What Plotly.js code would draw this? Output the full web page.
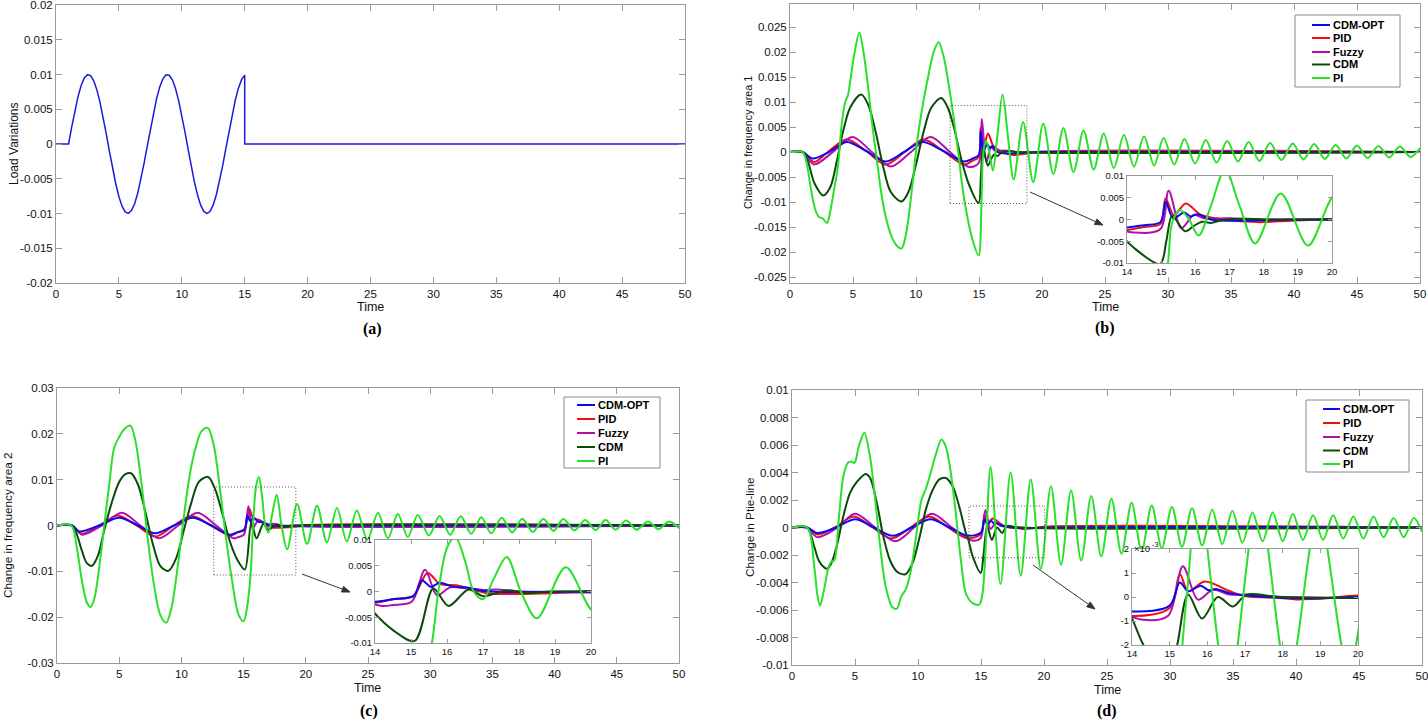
<!DOCTYPE html>
<html>
<head>
<meta charset="utf-8">
<script src="https://cdn.plot.ly/plotly-3.0.1.min.js"></script>
<style>
html,body{margin:0;padding:0;background:#ffffff;}
#chart{width:1428px;height:722px;}
</style>
</head>
<body>
<div id="chart"></div>
<script>
// ---------------- DATA ----------------
const seriesNames = ['CDM-OPT', 'PID', 'Fuzzy', 'CDM', 'PI'];
const seriesColors = ['#0a0af0', '#f01010', '#b010b0', '#0a4a0a', '#2ae02a'];

// (a) load variation
const loadT = [0, 1, 1.25, 1.5, 1.75, 2, 2.25, 2.5, 2.75, 3, 3.25, 3.5, 3.75, 4, 4.25, 4.5, 4.75, 5, 5.25, 5.5, 5.75, 6, 6.25, 6.5, 6.75, 7, 7.25, 7.5, 7.75, 8, 8.25, 8.5, 8.75, 9, 9.25, 9.5, 9.75, 10, 10.25, 10.5, 10.75, 11, 11.25, 11.5, 11.75, 12, 12.25, 12.5, 12.75, 13, 13.25, 13.5, 13.75, 14, 14.25, 14.5, 14.75, 15, 15, 50];
const loadV = [0, 0, .00247, .00479, .00682, .00841, .00949, .00997, .00984, .00909, .00778,
  .00599, .00382, .00141, -.00108, -.00351, -.00572, -.00757, -.00895, -.00978, -.00999,
  -.00959, -.00859, -.00706, -.00508, -.00279, -.00033, .00215, .0045, .00657, .00823,
  .00938, .00995, .00989, .00923, .00799, .00624, .00412, .00174, -.00075, -.0032,
  -.00544, -.00735, -.0088, -.0097, -.01, -.00968, -.00876, -.00727, -.00537, -.00312,
  -.00066, .00182, .0042, .00631, .00804, .00926, .00991, 0, 0];

// (b) change in frequency area 1
const bOptT = [0, 1.0, 1.8, 3.1, 4.5, 6.05, 7.6, 9.05, 10.5, 12.1, 13.8, 14.5, 14.98, 15.13, 15.35, 15.67, 15.86, 16.06, 16.45, 17.3, 18.5, 20, 50];
const bOptV = [0, 0, -0.0013, 0, 0.002, 0.0002, -0.0019, 0, 0.002, 0.0003, -0.0019, -0.0013, -0.0006, 0.0041, 0.0003, 0.0016, 0.0007, 0.0012, 0, -0.0003, -0.0001, 0, 0];
const bPidT = [0, 1.0, 1.9, 3.0, 4.5, 6.0, 7.6, 9.1, 10.6, 12.1, 13.8, 14.5, 14.98, 15.13, 15.37, 15.72, 16.16, 16.84, 17.8, 18.8, 20, 50];
const bPidV = [0, 0, -0.002, 0, 0.0025, 0.0003, -0.0025, 0, 0.0025, 0.0003, -0.0025, -0.0017, -0.001, 0.0049, 0.001, 0.0037, 0.0011, 0, -0.0006, -0.0003, 0.0001, 0];
const bFuzT = [0, 1.0, 1.9, 3.4, 4.95, 6.5, 8.0, 9.6, 11.15, 12.7, 14.2, 14.98, 15.22, 15.59, 15.96, 16.25, 17.0, 18.0, 50];
const bFuzV = [0, 0, -0.0025, 0, 0.003, 0, -0.0029, 0, 0.003, 0, -0.003, -0.0022, 0.0066, -0.002, 0.0011, 0.0003, 0.0003, 0, 0];
const bCdmT = [0, 1.0, 1.4, 1.95, 2.65, 3.2, 3.7, 4.2, 4.8, 5.65, 6.2, 6.8, 7.4, 8.0, 8.85, 9.4, 10.0, 10.6, 11.2, 12.0, 12.5, 13.0, 13.6, 14.2, 14.97, 15.15, 15.32, 15.7, 15.95, 16.2, 16.45, 16.8, 17.5, 18.0, 50];
const bCdmV = [0, 0, -0.0017, -0.0063, -0.0087, -0.007, -0.002, 0.004, 0.009, 0.0115, 0.0095, 0.004, -0.003, -0.008, -0.0099, -0.008, -0.0025, 0.004, 0.0088, 0.0108, 0.009, 0.005, -0.0015, -0.0065, -0.0102, -0.005, 0.0008, -0.0027, -0.0015, -0.0005, -0.0008, -0.0001, 0.0002, 0, 0];
const bPiT = [0, 1.0, 1.3, 1.7, 2.0, 2.3, 2.6, 2.94, 3.2, 3.5, 3.8, 4.1, 4.4, 4.6, 4.8, 5.1, 5.5, 5.8, 6.2, 6.55, 6.9, 7.25, 7.6, 8.0, 8.4, 8.85, 9.2, 9.7, 10.1, 10.6, 11.0, 11.4, 11.8, 12.2, 12.75, 13.3, 13.8, 14.5, 14.97, 15.2, 15.32, 15.55, 15.8, 16.1, 16.45, 16.87, 17.3, 17.75, 18.5, 19.3, 20.1, 20.9, 21.7, 22.5, 23.3, 24.1, 24.9, 25.7, 26.5, 27.3, 28.1, 28.9, 29.65, 30.5, 31.3, 32.15, 33.0, 33.85, 34.7, 35.55, 36.4, 37.25, 38.1, 39.0, 39.9, 40.75, 41.6, 42.45, 43.3, 44.15, 45.0, 45.85, 46.7, 47.55, 48.4, 49.25, 50];
const bPiV = [0, 0, -0.002, -0.008, -0.0115, -0.013, -0.0133, -0.0142, -0.0118, -0.0075, -0.003, 0.0055, 0.0102, 0.0113, 0.0145, 0.0195, 0.0239, 0.0205, 0.013, 0.005, -0.0017, -0.0083, -0.013, -0.0165, -0.0185, -0.0193, -0.0165, -0.007, 0.0023, 0.0103, 0.0155, 0.02, 0.022, 0.019, 0.011, 0.001, -0.009, -0.0177, -0.0207, -0.01, -0.0008, 0.0022, 0.0002, -0.0037, 0.003, 0.0115, 0.003, -0.0055, 0.006, -0.006, 0.0057, -0.0044, 0.0048, -0.004, 0.0043, -0.0035, 0.0037, -0.0032, 0.0034, -0.0029, 0.0031, -0.0027, 0.0028, -0.0025, 0.0026, -0.0023, 0.0024, -0.0021, 0.0022, -0.0019, 0.002, -0.0018, 0.0018, -0.0016, 0.0017, -0.0015, 0.0016, -0.0014, 0.0014, -0.0013, 0.0013, -0.0012, 0.0012, -0.0011, 0.0011, -0.001, 0.0008];

// (c) change in frequency area 2
const cOptT = [0, 1.2, 1.8, 3.4, 5.0, 6.5, 7.9, 9.4, 10.9, 12.4, 13.9, 14.5, 15.07, 15.3, 15.55, 15.8, 16.18, 16.55, 17.0, 17.66, 20, 50];
const cOptV = [0, 0, -0.0013, 0, 0.0017, 0, -0.0017, 0, 0.0017, 0, -0.002, -0.0015, -0.0009, 0.0022, 0.0009, 0.0017, 0.0009, 0.0008, 0.0001, -0.0001, 0, 0];
const cPidT = [0, 1.2, 2.0, 3.4, 4.9, 6.4, 7.9, 9.4, 10.8, 12.4, 13.9, 14.5, 15.07, 15.46, 15.8, 16.27, 16.74, 17.2, 17.85, 18.6, 19.5, 20, 50];
const cPidV = [0, 0, -0.0018, 0, 0.0022, 0, -0.0024, 0, 0.0021, 0, -0.0022, -0.0015, -0.0008, 0.0036, 0.0015, 0.0012, 0.0003, -0.0004, -0.0005, -0.0004, -0.0001, 0.0001, 0];
const cFuzT = [0, 1.2, 2.0, 3.6, 5.2, 6.7, 8.2, 9.75, 11.3, 12.8, 14.2, 14.5, 15.02, 15.39, 15.72, 16.09, 16.55, 17.0, 17.4, 18.1, 50];
const cFuzV = [0, 0, -0.002, 0, 0.0028, 0, -0.0028, 0, 0.0028, 0, -0.0028, -0.0026, -0.002, 0.0042, -0.0007, 0.0008, 0.0006, 0.0003, 0.0004, 0, 0];
const cCdmT = [0, 1.2, 1.6, 2.0, 2.4, 2.8, 3.3, 3.8, 4.4, 5.0, 5.5, 5.95, 6.5, 7.1, 7.7, 8.3, 8.95, 9.6, 10.2, 10.8, 11.4, 12.15, 12.7, 13.3, 13.9, 14.5, 15.1, 15.62, 16.04, 16.6, 17.0, 17.66, 18.2, 19.0, 50];
const cCdmV = [0, 0, -0.002, -0.0055, -0.0082, -0.0088, -0.0065, -0.001, 0.005, 0.0095, 0.0112, 0.0114, 0.009, 0.003, -0.004, -0.0088, -0.0099, -0.007, -0.001, 0.005, 0.0095, 0.0106, 0.008, 0.0025, -0.0035, -0.0075, -0.0096, 0.0006, -0.0028, 0.0004, -0.0009, 0.0002, -0.0003, 0, 0];
const cPiT = [0, 1.15, 1.6, 2.0, 2.4, 2.7, 3.0, 3.4, 3.8, 4.2, 4.6, 5.0, 5.4, 5.9, 6.3, 6.8, 7.3, 7.8, 8.3, 8.78, 9.2, 9.7, 10.2, 10.7, 11.2, 11.6, 12.12, 12.6, 13.1, 13.6, 14.1, 14.6, 15.0, 15.3, 15.58, 15.76, 16.0, 16.23, 16.5, 16.74, 17.0, 17.3, 17.66, 18.05, 18.5, 19.3, 20.1, 20.9, 21.7, 22.5, 23.3, 24.1, 24.95, 25.8, 26.6, 27.4, 28.2, 29.0, 29.9, 30.75, 31.6, 32.45, 33.3, 34.1, 34.9, 35.75, 36.6, 37.4, 38.25, 39.1, 39.9, 40.7, 41.6, 42.45, 43.3, 44.1, 44.9, 45.75, 46.6, 47.5, 48.35, 49.2, 50];
const cPiV = [0, 0, -0.005, -0.012, -0.0168, -0.0178, -0.016, -0.009, 0, 0.009, 0.017, 0.0193, 0.021, 0.0218, 0.0185, 0.009, -0.003, -0.013, -0.0195, -0.0212, -0.018, -0.009, 0.002, 0.0115, 0.0175, 0.0205, 0.0213, 0.0175, 0.008, -0.003, -0.0125, -0.0195, -0.0209, -0.0175, -0.01, 0, 0.0085, 0.0106, 0.006, 0, -0.0015, 0.0025, 0.0067, 0, -0.0052, 0.0047, -0.004, 0.0043, -0.0037, 0.0038, -0.0035, 0.0033, -0.0031, 0.0028, -0.0028, 0.0025, -0.0025, 0.0023, -0.0022, 0.0021, -0.002, 0.002, -0.0018, 0.0018, -0.0017, 0.0017, -0.0015, 0.0015, -0.0014, 0.0015, -0.0012, 0.0014, -0.0011, 0.0012, -0.001, 0.0012, -0.0009, 0.0011, -0.0009, 0.0009, -0.0008, 0.0009, -0.0006];

// (d) change in Ptie-line
const dOptT = [0, 1.2, 2.0, 3.5, 5.0, 6.5, 8.0, 9.5, 11.0, 12.5, 14.0, 15.0, 15.27, 15.49, 15.82, 16.04, 16.22, 16.64, 17.04, 18.8, 20, 50];
const dOptV = [0, 0, -0.0004, 0, 0.0006, 0, -0.0006, 0, 0.0006, 0, -0.0006, -0.00036, 0.0006, 0.00024, 0.00047, 0.00028, 0.00033, 0.00014, 0.00006, -0.00006, 0, 0];
const dPidT = [0, 1.2, 2.0, 3.4, 4.9, 6.4, 7.9, 9.4, 10.9, 12.4, 13.9, 15.0, 15.27, 15.49, 15.93, 16.6, 17.04, 17.92, 18.36, 19.25, 20, 50];
const dPidV = [0, 0, -0.0005, 0, 0.0008, 0, -0.0008, 0, 0.0008, 0, -0.00078, -0.00046, 0.00096, 0.00024, 0.00065, 0.00024, 0.00003, -0.00004, -0.0001, -0.00004, 0.00006, 0];
const dFuzT = [0, 1.2, 2.0, 3.6, 5.0, 6.6, 8.2, 9.7, 11.1, 12.7, 14.3, 14.96, 15.35, 15.75, 16.15, 16.6, 17.04, 18, 50];
const dFuzV = [0, 0, -0.0007, 0, 0.001, 0, -0.001, 0, 0.001, 0, -0.00095, -0.00078, 0.00128, -0.00011, 0.0003, 0.0001, 0.0001, 0, 0];
const dCdmT = [0, 1.2, 1.77, 2.12, 2.55, 2.8, 3.12, 3.54, 4.07, 4.6, 5.13, 5.85, 6.2, 6.73, 7.26, 7.79, 8.32, 9.0, 9.56, 10.1, 10.62, 11.15, 11.69, 12.2, 12.75, 13.28, 13.8, 14.0, 14.34, 14.98, 15.2, 15.49, 15.86, 16.28, 16.68, 17.04, 18, 50];
const dCdmV = [0, 0, -0.0014, -0.0024, -0.0029, -0.003, -0.0026, -0.0014, 0.0008, 0.0025, 0.0033, 0.0039, 0.0036, 0.0018, -0.0007, -0.0024, -0.0032, -0.0034, -0.0026, -0.0008, 0.0013, 0.0027, 0.0035, 0.0036, 0.003, 0.0015, -0.0004, -0.0009, -0.0021, -0.0033, -0.002, 0.0001, -0.0009, 0, -0.0004, 0.0001, 0, 0];
const dPiT = [0, 1.2, 1.77, 2.0, 2.23, 2.55, 2.9, 3.1, 3.35, 3.7, 4.07, 4.43, 4.67, 4.96, 5.3, 5.74, 6.2, 6.55, 7.0, 7.44, 7.97, 8.32, 8.68, 9.03, 9.4, 9.84, 10.27, 10.62, 10.98, 11.44, 11.86, 12.2, 12.57, 13.03, 13.46, 13.8, 14.34, 14.87, 15.12, 15.45, 15.76, 16.55, 17.35, 18.15, 18.95, 19.75, 20.55, 21.35, 22.15, 22.95, 23.75, 24.55, 25.35, 26.15, 26.95, 27.75, 28.55, 29.35, 30.15, 30.95, 31.75, 32.55, 33.35, 34.15, 34.95, 35.75, 36.55, 37.35, 38.15, 38.95, 39.75, 40.55, 41.35, 42.15, 42.95, 43.75, 44.55, 45.35, 46.15, 46.95, 47.75, 48.55, 49.35, 50];
const dPiV = [0, 0, -0.0029, -0.0048, -0.0057, -0.0045, -0.0029, -0.0025, -0.0024, 0.0005, 0.0037, 0.0047, 0.0048, 0.0047, 0.0059, 0.0069, 0.0051, 0.0025, -0.0014, -0.0043, -0.0058, -0.0059, -0.005, -0.0045, -0.0033, -0.0007, 0.002, 0.0028, 0.0039, 0.0054, 0.0064, 0.0059, 0.0042, 0.0008, -0.0028, -0.0048, -0.0055, -0.0056, -0.0048, 0, 0.0044, -0.0041, 0.004, -0.0035, 0.0035, -0.003, 0.003, -0.0027, 0.0027, -0.0024, 0.0023, -0.0021, 0.0021, -0.0019, 0.0018, -0.0017, 0.0016, -0.0015, 0.0015, -0.0014, 0.0014, -0.0013, 0.0013, -0.0012, 0.0012, -0.0011, 0.0011, -0.001, 0.0011, -0.001, 0.001, -0.0009, 0.0009, -0.0009, 0.0009, -0.0008, 0.0008, -0.0008, 0.0008, -0.0007, 0.0007, -0.0007, 0.0007, -0.0003];

// tick values / labels
const timeTicks = [0, 5, 10, 15, 20, 25, 30, 35, 40, 45, 50];
const timeTickText = ['0', '5', '10', '15', '20', '25', '30', '35', '40', '45', '50'];
const aYTicks = [-0.02, -0.015, -0.01, -0.005, 0, 0.005, 0.01, 0.015, 0.02];
const aYText = ['-0.02', '-0.015', '-0.01', '-0.005', '0', '0.005', '0.01', '0.015', '0.02'];
const bYTicks = [-0.025, -0.02, -0.015, -0.01, -0.005, 0, 0.005, 0.01, 0.015, 0.02, 0.025];
const bYText = ['-0.025', '-0.02', '-0.015', '-0.01', '-0.005', '0', '0.005', '0.01', '0.015', '0.02', '0.025'];
const cYTicks = [-0.03, -0.02, -0.01, 0, 0.01, 0.02, 0.03];
const cYText = ['-0.03', '-0.02', '-0.01', '0', '0.01', '0.02', '0.03'];
const dYTicks = [-0.01, -0.008, -0.006, -0.004, -0.002, 0, 0.002, 0.004, 0.006, 0.008, 0.01];
const dYText = ['-0.01', '-0.008', '-0.006', '-0.004', '-0.002', '0', '0.002', '0.004', '0.006', '0.008', '0.01'];
const insetXTicks = [14, 15, 16, 17, 18, 19, 20];
const insetXText = ['14', '15', '16', '17', '18', '19', '20'];
const insetYTicks = [-0.01, -0.005, 0, 0.005, 0.01];
const insetYText = ['-0.01', '-0.005', '0', '0.005', '0.01'];
const insetDYTicks = [-0.002, -0.001, 0, 0.001, 0.002];
const insetDYText = ['-2', '-1', '0', '1', '2'];

// ---------------- LAYOUT HELPERS ----------------
const W = 1428, H = 722;
const FONT = 'Liberation Sans, Arial, sans-serif';
const px = v => v / W;
const py = v => 1 - v / H;

function mkAxis(x0, x1, range, tv, tt, fs, tl, anchor, vertical) {
  const ax = {
    range: range, tickmode: 'array', tickvals: tv, ticktext: tt, anchor: anchor,
    showline: true, linecolor: '#9a9a9a', linewidth: 1, mirror: 'ticks',
    ticks: 'inside', ticklen: tl, tickwidth: 1, tickcolor: '#9a9a9a',
    showgrid: false, zeroline: false, fixedrange: true, ticklabeloverflow: 'allow',
    tickfont: {family: FONT, size: fs, color: '#111111'}
  };
  ax.domain = vertical ? [py(x1), py(x0)] : [px(x0), px(x1)];
  return ax;
}

const layout = {
  width: W, height: H,
  margin: {l: 0, r: 0, t: 0, b: 0},
  paper_bgcolor: '#ffffff', plot_bgcolor: '#ffffff',
  showlegend: false,
  xaxis:  mkAxis(56, 685, [0, 50], timeTicks, timeTickText, 11.5, 6, 'y'),
  yaxis:  mkAxis(5, 283, [-0.02, 0.02], aYTicks, aYText, 11.5, 6, 'x', true),
  xaxis2: mkAxis(790, 1420, [0, 50], timeTicks, timeTickText, 11.5, 6, 'y2'),
  yaxis2: mkAxis(4, 283, [-0.0262, 0.0296], bYTicks, bYText, 11.5, 6, 'x2', true),
  xaxis3: mkAxis(57, 679, [0, 50], timeTicks, timeTickText, 11.5, 6, 'y3'),
  yaxis3: mkAxis(388, 663, [-0.03, 0.03], cYTicks, cYText, 11.5, 6, 'x3', true),
  xaxis4: mkAxis(792, 1422, [0, 50], timeTicks, timeTickText, 11.5, 6, 'y4'),
  yaxis4: mkAxis(390, 665, [-0.01, 0.01], dYTicks, dYText, 11.5, 6, 'x4', true),
  xaxis5: mkAxis(1127, 1332, [14, 20], insetXTicks, insetXText, 9.5, 4, 'y5'),
  yaxis5: mkAxis(176, 263, [-0.01, 0.01], insetYTicks, insetYText, 9.5, 4, 'x5', true),
  xaxis6: mkAxis(375, 591, [14, 20], insetXTicks, insetXText, 9.5, 4, 'y6'),
  yaxis6: mkAxis(540, 643, [-0.01, 0.01], insetYTicks, insetYText, 9.5, 4, 'x6', true),
  xaxis7: mkAxis(1132, 1358, [14, 20], insetXTicks, insetXText, 9.5, 4, 'y7'),
  yaxis7: mkAxis(549, 645, [-0.002, 0.002], insetDYTicks, insetDYText, 9.5, 4, 'x7', true),
  shapes: [], annotations: []
};

// ---------------- TRACES ----------------
const traces = [];
traces.push({x: loadT, y: loadV, xaxis: 'x', yaxis: 'y', type: 'scatter', mode: 'lines',
  name: 'Load', line: {color: '#1a1ad8', width: 1.5}, hoverinfo: 'skip'});

const panels = [
  {main: ['x2', 'y2'], inset: ['x5', 'y5'], data: [[bOptT, bOptV], [bPidT, bPidV], [bFuzT, bFuzV], [bCdmT, bCdmV], [bPiT, bPiV]]},
  {main: ['x3', 'y3'], inset: ['x6', 'y6'], data: [[cOptT, cOptV], [cPidT, cPidV], [cFuzT, cFuzV], [cCdmT, cCdmV], [cPiT, cPiV]]},
  {main: ['x4', 'y4'], inset: ['x7', 'y7'], data: [[dOptT, dOptV], [dPidT, dPidV], [dFuzT, dFuzV], [dCdmT, dCdmV], [dPiT, dPiV]]}
];
const drawOrder = [1, 2, 0, 3, 4];
panels.forEach(p => {
  [p.main, p.inset].forEach(axes => {
    drawOrder.forEach(i => {
      traces.push({
        x: p.data[i][0], y: p.data[i][1], xaxis: axes[0], yaxis: axes[1],
        type: 'scatter', mode: 'lines', name: seriesNames[i],
        line: {color: seriesColors[i], width: 2, shape: 'spline', smoothing: 0.9},
        hoverinfo: 'skip'
      });
    });
  });
});

// ---------------- DECORATIONS ----------------
const ann = layout.annotations, shp = layout.shapes;
function text(t, x, y, size, opts) {
  ann.push(Object.assign({text: t, xref: 'paper', yref: 'paper', x: px(x), y: py(y),
    showarrow: false, xanchor: 'center', yanchor: 'middle',
    font: {family: FONT, size: size, color: '#111111'}}, opts || {}));
}
// axis titles
text('Time', 370, 307, 12.5);
text('Load Variations', 14, 144, 12, {textangle: -90});
text('Time', 1105, 307, 12.5);
text('Change in frequency area 1', 748, 143, 10.8, {textangle: -90});
text('Time', 368, 688, 12.5);
text('Change in frequency area 2', 8, 525, 11.8, {textangle: -90});
text('Time', 1107, 690, 12.5);
text('Change in Ptie-line', 750, 527, 11.8, {textangle: -90});
// panel labels
const serif = {family: 'Liberation Serif, Times New Roman, serif', size: 16, color: '#000000'};
text('<b>(a)</b>', 372, 329, 16, {font: serif});
text('<b>(b)</b>', 1105, 328, 16, {font: serif});
text('<b>(c)</b>', 369, 711, 16, {font: serif});
text('<b>(d)</b>', 1107, 711, 16, {font: serif});
// exponent label for inset (d): "×10" with raised "-3"
text('×10', 1132, 548, 9.5, {xanchor: 'left'});
text('-3', 1150, 544, 7.5, {xanchor: 'left'});

// dotted zoom boxes
const dot = {color: '#555555', width: 1, dash: '1px,2px'};
shp.push({type: 'rect', xref: 'x2', yref: 'y2', x0: 12.7, x1: 18.8, y0: -0.0103, y1: 0.0093, line: dot});
shp.push({type: 'rect', xref: 'x3', yref: 'y3', x0: 12.6, x1: 19.2, y0: -0.0108, y1: 0.0084, line: dot});
shp.push({type: 'rect', xref: 'x4', yref: 'y4', x0: 14.05, x1: 20.05, y0: -0.0022, y1: 0.00156, line: dot});

// arrows (line + filled head), pixel positions converted to paper
function arrow(hx, hy, tx, ty) {
  const dx = hx - tx, dy = hy - ty, L = Math.hypot(dx, dy);
  const ux = dx / L, uy = dy / L, nx = -uy, ny = ux;
  const bx = hx - ux * 8, by = hy - uy * 8;
  shp.push({type: 'line', xref: 'paper', yref: 'paper', x0: px(tx), y0: py(ty), x1: px(bx), y1: py(by),
    line: {color: '#333333', width: 1}});
  const p = [[hx, hy], [bx + nx * 3, by + ny * 3], [bx - nx * 3, by - ny * 3]];
  shp.push({type: 'path', xref: 'paper', yref: 'paper',
    path: 'M' + p.map(q => px(q[0]) + ',' + py(q[1])).join(' L') + ' Z',
    fillcolor: '#333333', line: {color: '#333333', width: 1}});
}
arrow(1103, 225, 1030, 192);
arrow(350, 592, 302, 574);
arrow(1095, 609, 1033, 565);

// legends (drawn as boxes with line samples)
function legend(bx0, by0, bx1, by1, lx0, lx1, rows) {
  shp.push({type: 'rect', xref: 'paper', yref: 'paper', x0: px(bx0), x1: px(bx1), y0: py(by1), y1: py(by0),
    line: {color: '#8a8a8a', width: 1}, fillcolor: '#ffffff', layer: 'above'});
  rows.forEach((ry, i) => {
    shp.push({type: 'line', xref: 'paper', yref: 'paper', x0: px(lx0), x1: px(lx1), y0: py(ry), y1: py(ry),
      line: {color: seriesColors[i], width: 2}, layer: 'above'});
    ann.push({text: '<b>' + seriesNames[i] + '</b>', xref: 'paper', yref: 'paper', x: px(lx1 + 1), y: py(ry),
      xanchor: 'left', yanchor: 'middle', showarrow: false,
      font: {family: FONT, size: 11, color: '#000000'}});
  });
}
legend(1295, 15, 1400, 87, 1312, 1330, [25, 38, 52, 64.5, 78]);
legend(564, 397, 660, 468, 577, 595, [405, 419, 433, 447, 461]);
legend(1306, 400, 1409, 472, 1323, 1340, [409, 423, 437, 450.5, 464]);

Plotly.newPlot('chart', traces, layout, {displayModeBar: false, staticPlot: true});
</script>
</body>
</html>
